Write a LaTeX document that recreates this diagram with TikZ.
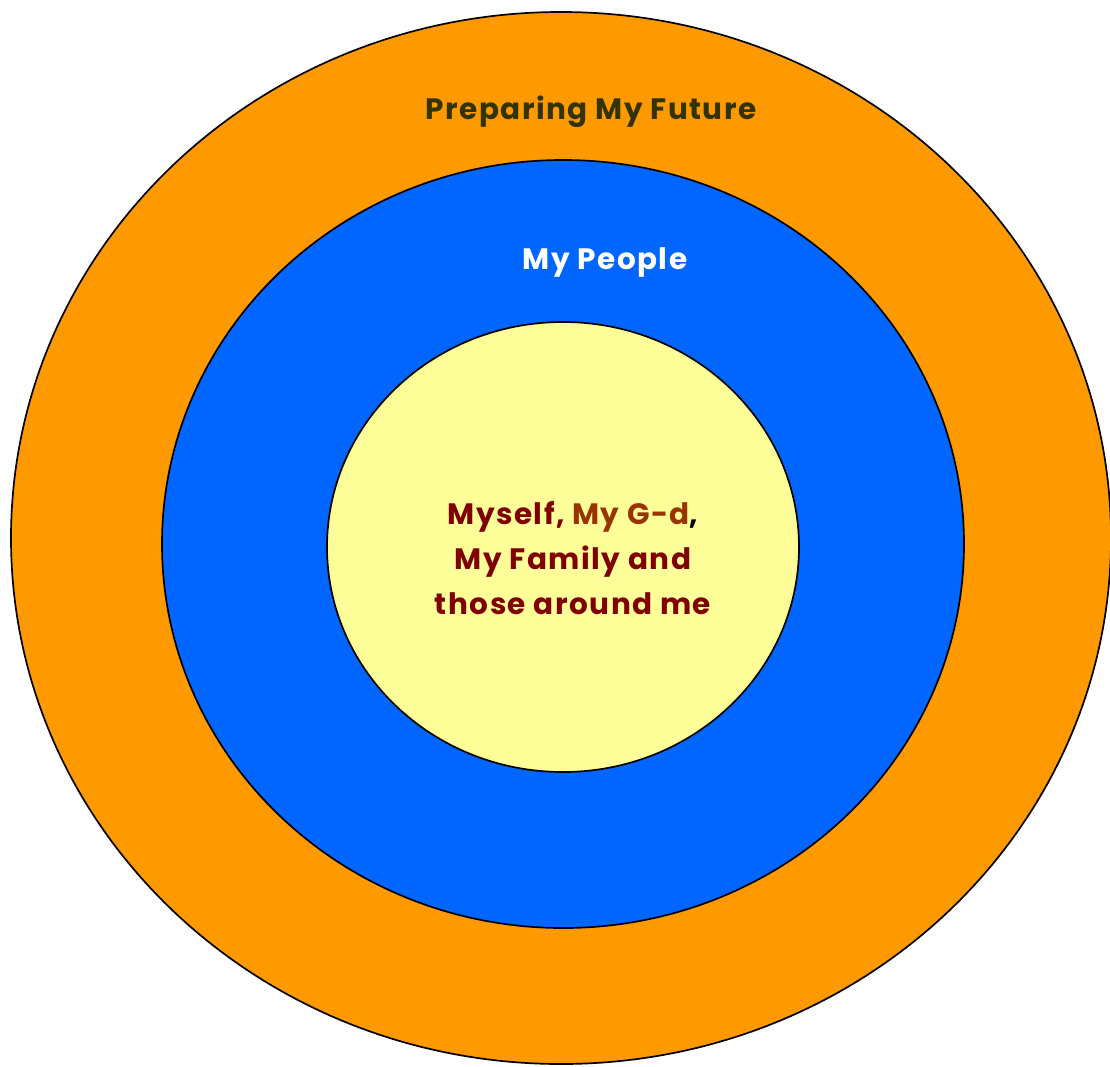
\documentclass[tikz,border=0pt]{standalone}
\usepackage{fontspec}
\setmainfont[LetterSpace=5]{Poppins}
\definecolor{outerfill}{HTML}{FF9900}
\definecolor{midfill}{HTML}{0066FF}
\definecolor{innerfill}{HTML}{FFFF99}
\definecolor{titlecol}{HTML}{333300}
\definecolor{maroon}{HTML}{800000}
\definecolor{rust}{HTML}{993300}
\begin{document}
\begin{tikzpicture}[x=1pt,y=-1pt,
  ring/.style={draw=black,line width=1.7pt},
  lbl/.style={font=\bfseries\fontsize{29.5}{45}\selectfont,align=center,inner sep=0pt}]
\useasboundingbox (0,0) rectangle (1110,1066);
\begin{scope}
\clip (0,0) rectangle (1110,1066);
\path[ring,fill=outerfill] (561,538) ellipse [x radius=550,y radius=526];
\path[ring,fill=midfill] (563,544) ellipse [x radius=401,y radius=384];
\path[ring,fill=innerfill] (563,547) ellipse [x radius=236,y radius=225];
\end{scope}
\node[lbl,text=titlecol] (future) at (591,112) {Preparing My Future};
\node[lbl,text=white] (people) at (605,263) {My People};
\node[lbl,text=maroon] (self) at (573,558)
  {Myself, \textcolor{rust}{My G-d}\textcolor{black}{,}\\My Family and\\those around me};
\end{tikzpicture}
\end{document}
